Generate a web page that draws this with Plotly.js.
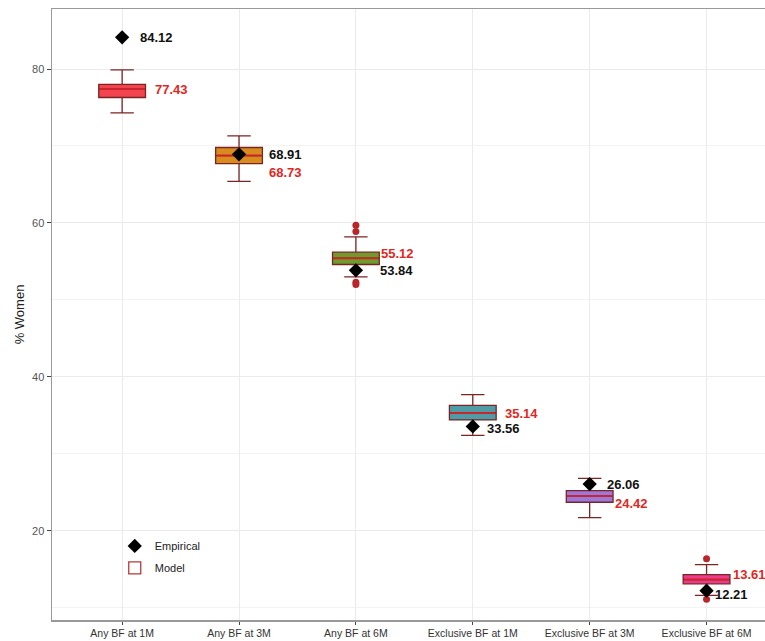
<!DOCTYPE html>
<html>
<head>
<meta charset="utf-8">
<script src="https://cdn.plot.ly/plotly-3.0.1.min.js"></script>
<style>html,body{margin:0;padding:0;background:#fff}#chart{width:765px;height:641px}</style>
</head>
<body>
<div id="chart"></div>
<script>
const categories = ["Any BF at 1M","Any BF at 3M","Any BF at 6M","Exclusive BF at 1M","Exclusive BF at 3M","Exclusive BF at 6M"];
const lowerFence = [74.3, 65.4, 53.0, 32.4, 21.7, 11.6];
const q1 = [76.3, 67.7, 54.6, 34.4, 23.7, 13.1];
const median = [77.4, 68.75, 55.4, 35.3, 24.5, 13.65];
const q3 = [78.0, 69.8, 56.2, 36.3, 25.2, 14.3];
const upperFence = [79.9, 71.3, 58.2, 37.7, 26.8, 15.6];
const modelMean = [77.43, 68.73, 55.12, 35.14, 24.42, 13.61];
const empirical = [84.12, 68.91, 53.84, 33.56, 26.06, 12.21];
const outlierCat = ["Any BF at 6M","Any BF at 6M","Any BF at 6M","Any BF at 6M","Exclusive BF at 6M","Exclusive BF at 6M"];
const outlierVal = [59.7, 58.9, 52.3, 52.0, 16.35, 11.1];
const boxColors = ["#f2434f","#d98b1e","#6f9a2c","#4f9ca6","#9a78dc","#ec3a8e"];

// label placement (pixels)
const empXShift = [16, 28, 22, 12, 15, 6];
const empYShift = [0, 0, 0, -2, 0, -4];
const modXShift = [31, 28, 23, 30, 23, 24];
const modYShift = [0, -17, 5, 0, -7, 5];

const traces = [];
categories.forEach((c, i) => {
  traces.push({
    type: 'box', x: [c], q1: [q1[i]], median: [median[i]], q3: [q3[i]],
    lowerfence: [lowerFence[i]], upperfence: [upperFence[i]],
    width: 0.4, whiskerwidth: 0.5,
    fillcolor: boxColors[i], line: {color: '#7a2424', width: 1.3},
    boxpoints: false, showlegend: false, hoverinfo: 'skip'
  });
});
// median lines
traces.push({
  type: 'scatter', mode: 'markers', x: categories, y: median, showlegend: false,
  marker: {symbol: 'line-ew', size: 32, line: {color: '#c9262b', width: 2}}, hoverinfo: 'skip'
});
// outliers
traces.push({
  type: 'scatter', mode: 'markers', x: outlierCat, y: outlierVal, showlegend: false,
  marker: {color: '#b8262a', size: 7}, hoverinfo: 'skip'
});
// empirical
traces.push({
  type: 'scatter', mode: 'markers', x: categories, y: empirical, name: 'Empirical',
  legendgroup: 'emp', marker: {symbol: 'diamond', color: '#000', size: 11}
});
// legend-only model entry
traces.push({
  type: 'box', x: [categories[0]], q1: [-60], median: [-50], q3: [-40],
  lowerfence: [-70], upperfence: [-30], name: 'Model', legendgroup: 'mod',
  fillcolor: '#ffffff', line: {color: '#b03a3a', width: 1.3}, boxpoints: false
});

const annotations = [];
categories.forEach((c, i) => {
  annotations.push({x: c, y: empirical[i], text: '<b>' + empirical[i].toFixed(2) + '</b>', showarrow: false,
    xanchor: 'left', yanchor: 'middle', xshift: empXShift[i], yshift: empYShift[i],
    font: {family: 'Liberation Sans, Arial, sans-serif', size: 13, color: '#111'}});
  annotations.push({x: c, y: median[i], text: '<b>' + modelMean[i].toFixed(2) + '</b>', showarrow: false,
    xanchor: 'left', yanchor: 'middle', xshift: modXShift[i], yshift: modYShift[i],
    font: {family: 'Liberation Sans, Arial, sans-serif', size: 13, color: '#e0281f'}});
});

const layout = {
  width: 765, height: 641,
  margin: {l: 52, r: 0, t: 9, b: 21},
  paper_bgcolor: '#fff', plot_bgcolor: '#fff',
  font: {family: 'Liberation Sans, Arial, sans-serif', color: '#333'},
  boxmode: 'overlay',
  showlegend: true,
  legend: {x: 0.088, y: 0.145, xanchor: 'left', yanchor: 'top', bgcolor: 'rgba(0,0,0,0)',
    font: {size: 11, color: '#222'}, tracegroupgap: 3},
  xaxis: {type: 'category', categoryarray: categories, categoryorder: 'array',
    range: [-0.6, 5.5], showgrid: true, gridcolor: '#ebebeb', zeroline: false,
    showline: true, linecolor: '#999', linewidth: 1.5, mirror: true,
    ticks: 'outside', ticklen: 3, tickcolor: '#444',
    tickfont: {size: 10.5, color: '#333'}},
  yaxis: {range: [8.4, 87.8], tickvals: [20, 40, 60, 80], showgrid: true, gridcolor: '#ebebeb',
    minor: {tickvals: [10, 30, 50, 70], showgrid: true, gridcolor: '#f3f3f3', ticks: ''},
    zeroline: false, showline: true, linecolor: '#999', linewidth: 1.5, mirror: true,
    ticks: 'outside', ticklen: 4, tickcolor: '#444',
    tickfont: {size: 11, color: '#555'},
    title: {text: '% Women', font: {size: 13, color: '#222'}, standoff: 4}},
  annotations: annotations
};

Plotly.newPlot('chart', traces, layout, {displayModeBar: false, staticPlot: true});
</script>
</body>
</html>
